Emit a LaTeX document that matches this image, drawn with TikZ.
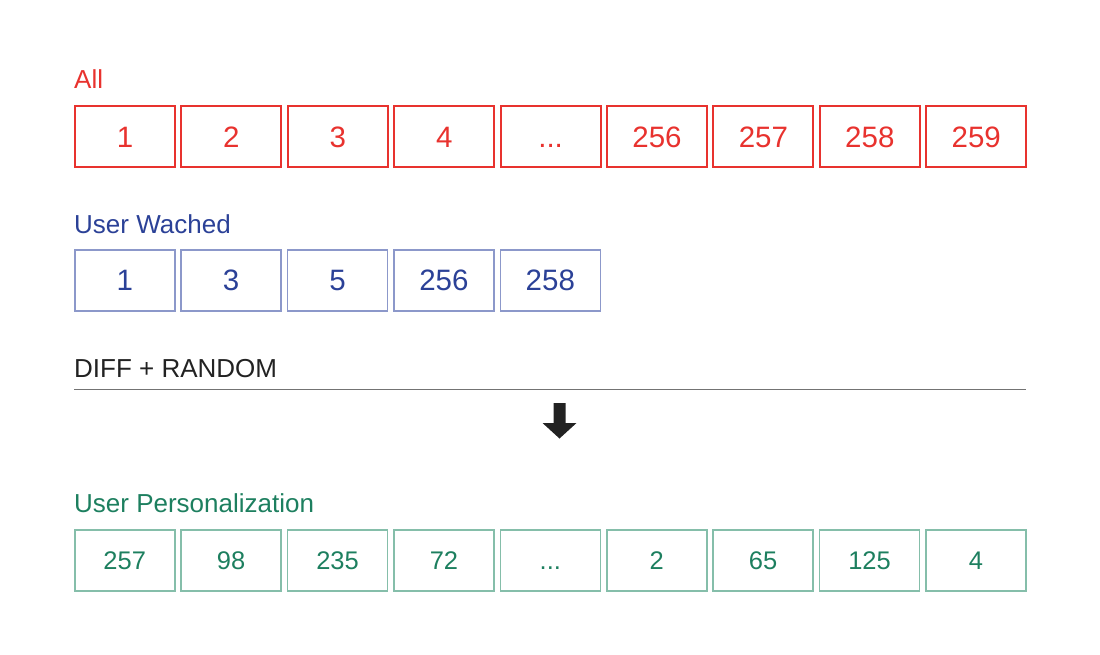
\documentclass[tikz,border=0pt]{standalone}
\usepackage{fontspec}
\setmainfont{Liberation Sans}
\definecolor{redc}{HTML}{E8322E}
\definecolor{bluet}{HTML}{2B4197}
\definecolor{blueb}{HTML}{8C98CA}
\definecolor{greent}{HTML}{1D7F5F}
\definecolor{greenb}{HTML}{85BEAA}
\definecolor{darkt}{HTML}{222222}
\newcommand\myellip{...}
\begin{document}
\begin{tikzpicture}[x=1pt,y=-1pt,
  cell/.style={draw, minimum width=100pt, minimum height=61pt, inner sep=0pt, anchor=north west, text depth=0pt},
  redcell/.style={cell, draw=redc, line width=2pt, text=redc, font=\fontsize{29.5}{33}\selectfont, text height=21.1pt},
  bluecell/.style={cell, draw=blueb, line width=1.5pt, text=bluet, font=\fontsize{29.5}{33}\selectfont, text height=21.1pt},
  greencell/.style={cell, draw=greenb, line width=1.5pt, text=greent, font=\fontsize{25.5}{29}\selectfont, text height=18.3pt},
  lbl/.style={anchor=base west, inner sep=0pt, font=\fontsize{26}{30}\selectfont}]
\useasboundingbox (0,0) rectangle (1100,654);
\node[lbl, text=redc] (lall) at (74,88) {All};
\foreach \t [count=\i from 0] in {1,2,3,4,\myellip,256,257,258,259}
  \node[redcell] (r\i) at ({74+106.4*\i},105) {\t};
\node[lbl, text=bluet] (lwatched) at (74,233) {User Wached};
\foreach \t [count=\i from 0] in {1,3,5,256,258}
  \node[bluecell] (b\i) at ({74+106.4*\i},249) {\t};
\node[lbl, text=darkt] (ldiff) at (74,377) {DIFF + RANDOM};
\coordinate (l1) at (74,389.5);
\coordinate (l2) at (1026,389.5);
\draw[color=black!55, line width=1.5pt] (l1) -- (l2);
\fill[darkt] (553.5,403) -- (565.5,403) -- (565.5,423) -- (576.5,423) -- (559.5,438.5) -- (542.5,423) -- (553.5,423) -- cycle;
\node[lbl, text=greent] (lpers) at (74,512) {User Personalization};
\foreach \t [count=\i from 0] in {257,98,235,72,\myellip,2,65,125,4}
  \node[greencell] (g\i) at ({74+106.4*\i},529) {\t};
\end{tikzpicture}
\end{document}
